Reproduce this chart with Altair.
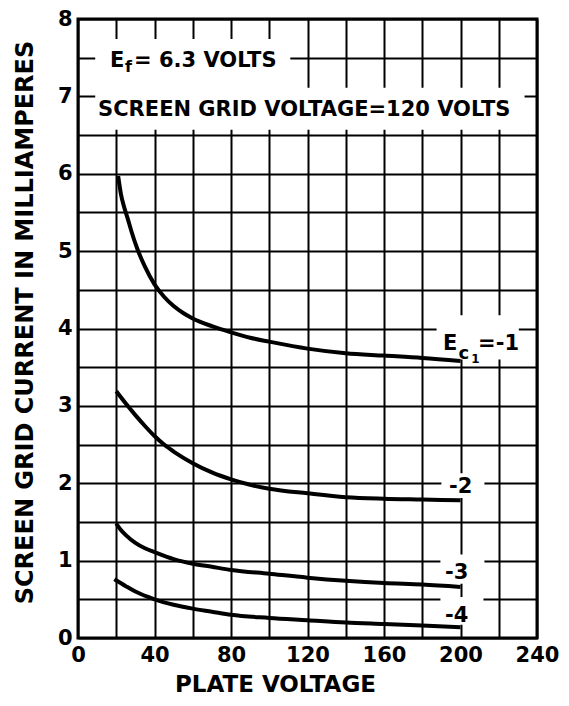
import altair as alt
import pandas as pd
import numpy as np

# ---- curve data (plate voltage, screen grid current mA) ----
x_m1 = [21, 22.5, 24, 26, 28, 31, 35, 40, 45, 50, 55, 60, 70, 80, 90, 100, 120, 140, 160, 180, 200]
y_m1 = [5.97, 5.73, 5.58, 5.42, 5.25, 5.03, 4.80, 4.57, 4.41, 4.29, 4.20, 4.13, 4.03, 3.95, 3.88, 3.83, 3.74, 3.68, 3.65, 3.62, 3.58]

x_m2 = [20, 25, 30, 35, 40, 45, 50, 60, 70, 80, 90, 100, 120, 140, 160, 180, 200]
y_m2 = [3.19, 3.03, 2.88, 2.74, 2.61, 2.50, 2.41, 2.26, 2.14, 2.05, 1.98, 1.93, 1.87, 1.82, 1.80, 1.79, 1.78]

x_m3 = [20, 22, 25, 30, 35, 40, 50, 60, 70, 80, 100, 120, 140, 160, 180, 200]
y_m3 = [1.48, 1.41, 1.33, 1.23, 1.16, 1.11, 1.02, 0.96, 0.92, 0.88, 0.83, 0.78, 0.74, 0.71, 0.69, 0.66]

x_m4 = [19, 25, 30, 40, 50, 60, 70, 80, 100, 120, 140, 160, 180, 200]
y_m4 = [0.76, 0.67, 0.60, 0.50, 0.43, 0.38, 0.34, 0.30, 0.26, 0.23, 0.20, 0.18, 0.16, 0.14]

series_names = ["-1", "-2", "-3", "-4"]
x_lists = [x_m1, x_m2, x_m3, x_m4]
y_lists = [y_m1, y_m2, y_m3, y_m4]

x_ticks = list(range(0, 241, 20))
y_ticks = [v / 2 for v in range(0, 17)]

# annotation texts
ann_text = ["E", "f", "= 6.3 VOLTS", "SCREEN GRID VOLTAGE=120 VOLTS",
            "E", "c", "1", "=-1", "-2", "-3", "-4"]
ann_x = [16.7, 24.6, 29.3, 10.5, 190.8, 199.0, 205.6, 209.2, 194.0, 191.9, 191.9]
ann_y = [7.38, 7.32, 7.38, 6.75, 3.72, 3.60, 3.56, 3.72, 1.88, 0.76, 0.206]
ann_fs = [21, 16, 21, 21, 21, 18, 12, 21, 21, 21, 21]

# white label backgrounds (break the grid)
box_x = [9.0, 9.0, 187.5, 190.0, 189.5, 189.5]
box_x2 = [111.0, 233.5, 230.5, 212.5, 212.5, 212.0]
box_y = [7.10, 6.57, 3.60, 1.81, 0.70, 0.17]
box_y2 = [7.74, 7.11, 4.17, 2.13, 1.08, 0.53]

rows = []
for name, xs, ys in zip(series_names, x_lists, y_lists):
    for i, (a, b) in enumerate(zip(xs, ys)):
        rows.append({"series": name, "order": i, "x": a, "y": b})
curves = pd.DataFrame(rows)
ann = pd.DataFrame({"text": ann_text, "x": ann_x, "y": ann_y, "fs": ann_fs})
boxes = pd.DataFrame({"x": box_x, "x2": box_x2, "y": box_y, "y2": box_y2})

FONT = "DejaVu Sans"

xscale = alt.Scale(domain=[0, 240], nice=False, zero=False)
yscale = alt.Scale(domain=[0, 8], nice=False, zero=False)

xaxis = alt.Axis(
    values=x_ticks,
    labelExpr="datum.value % 40 === 0 ? format(datum.value, 'd') : ''",
    grid=True, gridColor="black", gridWidth=2, gridOpacity=1,
    ticks=False, domain=False,
    labelFont=FONT, labelFontWeight="bold", labelFontSize=21, labelColor="black",
    labelPadding=6, labelFlush=False, labelOverlap=False,
    title="PLATE VOLTAGE", titleFont=FONT, titleFontWeight="bold", titleFontSize=23,
    titleColor="black", titleX=197, titleY=53, titleAlign="center", titleBaseline="alphabetic",
)
yaxis = alt.Axis(
    values=y_ticks,
    labelExpr="datum.value % 1 === 0 ? format(datum.value, 'd') : ''",
    grid=True, gridColor="black", gridWidth=2, gridOpacity=1,
    ticks=False, domain=False,
    labelFont=FONT, labelFontWeight="bold", labelFontSize=21, labelColor="black",
    labelPadding=6, labelFlush=False, labelOverlap=False,
    title="SCREEN GRID CURRENT IN MILLIAMPERES", titleFont=FONT, titleFontWeight="bold",
    titleFontSize=24, titleColor="black", titleX=-46, titleY=303, titleAngle=270,
    titleAlign="center", titleBaseline="alphabetic",
)

X = alt.X("x:Q", scale=xscale, axis=xaxis)
Y = alt.Y("y:Q", scale=yscale, axis=yaxis)

box_layer = alt.Chart(boxes).mark_rect(color="white").encode(
    x=X, x2="x2:Q", y=Y, y2="y2:Q",
)

line_layer = alt.Chart(curves).mark_line(color="black", strokeWidth=4, interpolate="monotone",
                                         strokeCap="butt").encode(
    x=X, y=Y, detail="series:N", order="order:Q",
)

text_layer = alt.Chart(ann).mark_text(font=FONT, fontWeight="bold", color="black",
                                      align="left", baseline="alphabetic").encode(
    x=X, y=Y,
    text="text:N",
    size=alt.Size("fs:Q", scale=None, legend=None),
)

chart = alt.layer(box_layer, line_layer, text_layer).properties(
    width=459, height=619,
    autosize=alt.AutoSizeParams(type="none"),
    padding={"left": 70, "top": 11, "right": 24, "bottom": 60},
    background="white",
).configure_view(stroke="black", strokeWidth=3)

chart.save("out.html", embed_options={"renderer": "svg", "actions": False})
